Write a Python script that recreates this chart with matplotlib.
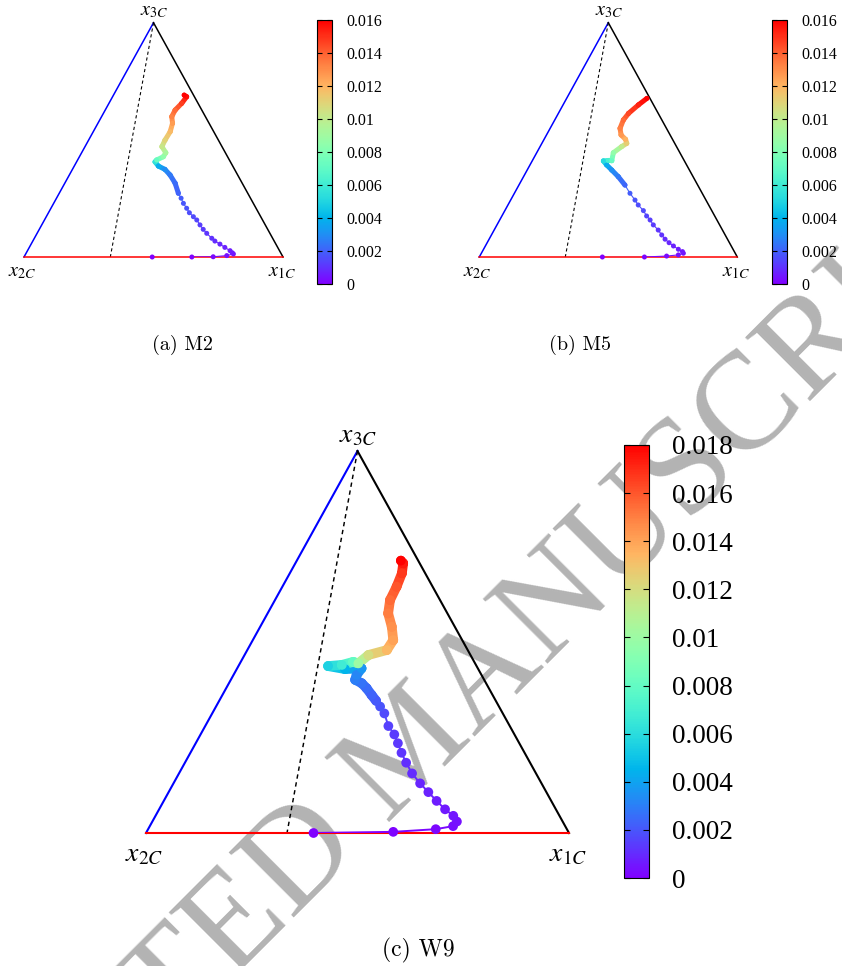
import numpy as np
import matplotlib
matplotlib.use('Agg')
import matplotlib.pyplot as plt
from matplotlib.collections import LineCollection
from matplotlib.colors import Normalize
from matplotlib.cm import ScalarMappable

plt.rcParams['mathtext.fontset'] = 'stix'

# trajectories as ternary fractions (x1C, x3C) and colour value along the path
a_x1 = [0.495, 0.648, 0.730, 0.780, 0.802, 0.795, 0.782, 0.755, 0.729, 0.703, 0.685, 0.655,
        0.633, 0.611, 0.588, 0.568, 0.544, 0.524, 0.501, 0.481, 0.460, 0.426, 0.389, 0.357,
        0.325, 0.303, 0.305, 0.324, 0.325, 0.297, 0.295, 0.297, 0.288, 0.271, 0.270, 0.281,
        0.286, 0.273]
a_x3 = [0.000, 0.000, 0.001, 0.006, 0.013, 0.018, 0.027, 0.041, 0.055, 0.068, 0.080, 0.101,
        0.118, 0.137, 0.158, 0.172, 0.189, 0.208, 0.229, 0.251, 0.272, 0.315, 0.350, 0.374,
        0.388, 0.406, 0.414, 0.428, 0.445, 0.471, 0.499, 0.535, 0.571, 0.599, 0.627, 0.656,
        0.684, 0.691]
a_val = [0.0000, 0.0001, 0.0002, 0.0003, 0.0004, 0.0005, 0.0006, 0.0007, 0.0008, 0.0009,
         0.0010, 0.0011, 0.0012, 0.0013, 0.0014, 0.0015, 0.0016, 0.0017, 0.0018, 0.0019,
         0.0020, 0.0022, 0.0025, 0.0030, 0.0038, 0.0055, 0.0072, 0.0085, 0.0093, 0.0102,
         0.0110, 0.0118, 0.0126, 0.0132, 0.0138, 0.0147, 0.0157, 0.0160]

b_x1 = [0.477, 0.640, 0.724, 0.767, 0.783, 0.776, 0.755, 0.729, 0.705, 0.682, 0.660, 0.636,
        0.606, 0.583, 0.561, 0.537, 0.505, 0.482, 0.448, 0.411, 0.367, 0.328, 0.297, 0.276,
        0.294, 0.308, 0.297, 0.316, 0.329, 0.316, 0.289, 0.271, 0.266, 0.272, 0.292, 0.311]
b_x3 = [0.000, 0.000, 0.004, 0.009, 0.016, 0.023, 0.033, 0.047, 0.061, 0.076, 0.094, 0.115,
        0.137, 0.158, 0.175, 0.198, 0.222, 0.243, 0.272, 0.307, 0.343, 0.371, 0.393, 0.410,
        0.412, 0.411, 0.445, 0.471, 0.485, 0.502, 0.521, 0.549, 0.585, 0.613, 0.649, 0.677]
b_val = [0.0000, 0.0001, 0.0002, 0.0003, 0.0004, 0.0005, 0.0006, 0.0007, 0.0008, 0.0009,
         0.0010, 0.0011, 0.0012, 0.0013, 0.0014, 0.0015, 0.0016, 0.0017, 0.0019, 0.0021,
         0.0025, 0.0030, 0.0038, 0.0052, 0.0063, 0.0072, 0.0085, 0.0100, 0.0112, 0.0120,
         0.0127, 0.0133, 0.0138, 0.0145, 0.0153, 0.0160]

c_x1 = [0.396, 0.583, 0.680, 0.717, 0.720, 0.704, 0.676, 0.645, 0.614, 0.583, 0.551, 0.523,
        0.499, 0.478, 0.458, 0.433, 0.407, 0.388, 0.371, 0.353, 0.332, 0.314, 0.294, 0.291,
        0.294, 0.256, 0.212, 0.243, 0.266, 0.280, 0.293, 0.330, 0.332, 0.311, 0.285, 0.272,
        0.270, 0.265, 0.255, 0.246]
c_x3 = [0.000, 0.003, 0.010, 0.018, 0.030, 0.045, 0.062, 0.084, 0.107, 0.130, 0.156, 0.184,
        0.210, 0.235, 0.258, 0.280, 0.313, 0.331, 0.346, 0.361, 0.379, 0.392, 0.401, 0.414,
        0.431, 0.429, 0.437, 0.440, 0.448, 0.444, 0.466, 0.479, 0.505, 0.540, 0.575, 0.610,
        0.645, 0.680, 0.706, 0.713]
c_val = [0.0000, 0.0001, 0.0002, 0.0003, 0.0004, 0.0005, 0.0006, 0.0007, 0.0008, 0.0009,
         0.0010, 0.0011, 0.0012, 0.0013, 0.0014, 0.0015, 0.0017, 0.0019, 0.0021, 0.0023,
         0.0025, 0.0027, 0.0030, 0.0032, 0.0036, 0.0045, 0.0055, 0.0068, 0.0080, 0.0100,
         0.0120, 0.0133, 0.0140, 0.0145, 0.0150, 0.0155, 0.0160, 0.0167, 0.0174, 0.0180]

ticks_ab = [0, 0.002, 0.004, 0.006, 0.008, 0.01, 0.012, 0.014, 0.016]
ticks_c = [0, 0.002, 0.004, 0.006, 0.008, 0.01, 0.012, 0.014, 0.016, 0.018]

W, H = 842, 966
fig = plt.figure(figsize=(W / 100, H / 100), dpi=100)
cmap = plt.get_cmap('rainbow')


def px_axes(left, top, right, bottom):
    return fig.add_axes([left / W, 1 - bottom / H, (right - left) / W, (bottom - top) / H])


def tern(x1, x3):
    x1 = np.asarray(x1)
    x3 = np.asarray(x3)
    return x1 + 0.5 * x3, x3


def panel(box, cbox, x1, x3, val, vmax, ticks, caption, cap_xy, sizes):
    lw, ms, thin, tfs, lfs, cfs, pad = sizes
    ax = px_axes(*box)
    ax.set_xlim(0, 1)
    ax.set_ylim(0, 1)
    ax.axis('off')
    ax.patch.set_alpha(0)

    # triangle sides and the dashed line from x3C to the base
    ax.plot([0, 0.5], [0, 1], color='blue', lw=lw, clip_on=False)
    ax.plot([0.5, 1], [1, 0], color='black', lw=lw, clip_on=False)
    ax.plot([0, 1], [0, 0], color='red', lw=lw, clip_on=False, zorder=3)
    dx, dy = tern([0, 1 / 3], [1, 0])
    ax.plot(dx, dy, color='black', lw=lw * 0.7, ls=(0, (3, 2.5)), clip_on=False)

    norm = Normalize(0, vmax)
    x, y = tern(x1, x3)
    val = np.asarray(val)
    pts = np.column_stack([x, y]).reshape(-1, 1, 2)
    segs = np.concatenate([pts[:-1], pts[1:]], axis=1)
    mid = 0.5 * (val[:-1] + val[1:])
    widths = np.where(val[:-1] >= 0.002, ms, thin)
    lc = LineCollection(segs, cmap=cmap, norm=norm, linewidths=widths,
                        capstyle='round', joinstyle='round', zorder=4)
    lc.set_array(mid)
    ax.add_collection(lc)
    ax.scatter(x, y, c=val, cmap=cmap, norm=norm, s=ms ** 2, linewidths=0,
               zorder=5, clip_on=False)

    # vertex labels
    l, t, r, b = box
    fig.text((l - 2) / W, 1 - (b + 15 * lfs / 14.5) / H, r'$x_{2C}$', fontsize=lfs,
             ha='center', va='center')
    fig.text((r - 1) / W, 1 - (b + 15 * lfs / 14.5) / H, r'$x_{1C}$', fontsize=lfs,
             ha='center', va='center')
    fig.text(((l + r) / 2 + 1) / W, 1 - (t - 12 * lfs / 14.5) / H, r'$x_{3C}$',
             fontsize=lfs, ha='center', va='center')

    cax = px_axes(*cbox)
    sm = ScalarMappable(norm=norm, cmap=cmap)
    cb = fig.colorbar(sm, cax=cax, ticks=ticks)
    cb.outline.set_linewidth(0.8)
    cb.ax.set_yticklabels(['%g' % v for v in ticks], family='Liberation Serif', fontsize=tfs)
    cb.ax.tick_params(direction='in', left=True, right=True, length=lw * 3,
                      width=0.8, pad=pad)

    fig.text(cap_xy[0] / W, 1 - cap_xy[1] / H, caption, family='cmr10', fontsize=cfs,
             ha='center', va='center')


# watermark sits behind the plots
fig.text(414 / W, 1 - 750 / H, 'ACCEPTED MANUSCRIPT', rotation=45, rotation_mode='anchor',
         ha='center', va='center', fontsize=100, color='#b3b3b3',
         family='Liberation Serif', zorder=-5)

panel((24, 22.7, 283, 257), (316.7, 20, 332.3, 284.3), a_x1, a_x3, a_val, 0.016,
      ticks_ab, '(a) M2', (182, 345), (1.1, 3.6, 0.8, 11.5, 14.5, 14.5, 10))
panel((479.3, 22.7, 737.3, 257), (771.7, 20, 787.3, 284.3), b_x1, b_x3, b_val, 0.016,
      ticks_ab, '(b) M5', (580, 345), (1.1, 3.6, 0.8, 11.5, 14.5, 14.5, 10))
panel((146, 451, 569, 833), (624, 445, 649.3, 878), c_x1, c_x3, c_val, 0.018,
      ticks_c, '(c) W9', (418, 950), (1.5, 7.0, 1.4, 19.5, 20, 17, 16))

fig.savefig('out.png', dpi=100)
